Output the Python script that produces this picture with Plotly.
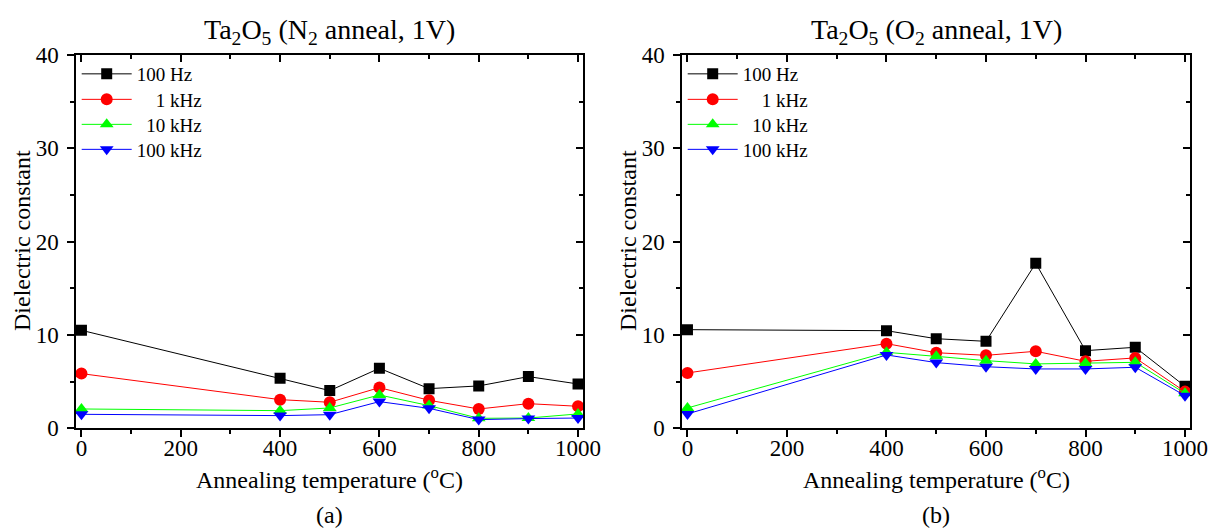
import plotly.graph_objects as go

temps = [0, 400, 500, 600, 700, 800, 900, 1000]

# N2 anneal (a)
n2_100hz = [10.5, 5.36, 4.04, 6.43, 4.25, 4.54, 5.54, 4.75]
n2_1khz = [5.86, 3.07, 2.79, 4.36, 3.0, 2.07, 2.64, 2.36]
n2_10khz = [2.07, 1.89, 2.18, 3.57, 2.43, 1.07, 1.1, 1.54]
n2_100khz = [1.5, 1.36, 1.46, 2.86, 2.14, 0.93, 1.04, 1.1]

# O2 anneal (b)
o2_100hz = [10.57, 10.46, 9.6, 9.32, 17.68, 8.32, 8.68, 4.5]
o2_1khz = [5.93, 9.07, 8.1, 7.82, 8.25, 7.18, 7.54, 3.93]
o2_10khz = [2.18, 8.14, 7.71, 7.25, 6.9, 6.96, 7.07, 3.75]
o2_100khz = [1.54, 7.86, 7.04, 6.6, 6.36, 6.36, 6.54, 3.5]

series_names = ["100 Hz", "\u00a0\u00a0\u00a0\u00a01 kHz", "\u00a0\u00a010 kHz", "100 kHz"]
colors = ["#000000", "#ff0000", "#00ff00", "#0000ff"]
symbols = ["square", "circle", "triangle-up", "triangle-down"]
msizes = [11, 12, 12, 12]

x_ticks = [0, 200, 400, 600, 800, 1000]
x_minor = [100, 300, 500, 700, 900]
y_ticks = [0, 10, 20, 30, 40]
y_minor = [5, 15, 25, 35]

FONT = "Liberation Serif"
W, H = 1212, 530

fig = go.Figure()

# one legend per entry so rows can be spaced like the reference
legend_rows_px = [74.5, 100, 125, 150]
legend_left_px = {"a": 76.7, "b": 682.7}
legend_layout = {}
lg_idx = 1

for panel, data, xa, ya in [
    ("a", [n2_100hz, n2_1khz, n2_10khz, n2_100khz], "x", "y"),
    ("b", [o2_100hz, o2_1khz, o2_10khz, o2_100khz], "x2", "y2"),
]:
    for k, (vals, name, c, s, ms) in enumerate(zip(data, series_names, colors, symbols, msizes)):
        lgname = "legend" if lg_idx == 1 else f"legend{lg_idx}"
        legend_layout[lgname] = dict(
            x=legend_left_px[panel] / W, y=1 - (legend_rows_px[k] - 19.5) / H,
            xanchor="left", yanchor="top",
            font=dict(family=FONT, size=19, color="black"),
            bgcolor="rgba(0,0,0,0)", itemwidth=50, borderwidth=0,
        )
        fig.add_trace(go.Scatter(
            x=temps, y=vals, name=name, mode="lines+markers",
            line=dict(color=c, width=1),
            marker=dict(symbol=s, size=ms, color=c, line=dict(width=0)),
            xaxis=xa, yaxis=ya, legend=lgname,
        ))
        lg_idx += 1

# empty traces to host the mirror axes (top / right with inward ticks)
for xa, ya in [("x3", "y3"), ("x4", "y4")]:
    fig.add_trace(go.Scatter(x=[], y=[], xaxis=xa, yaxis=ya, showlegend=False, hoverinfo="skip"))

ydom = [1 - 428.3 / H, 1 - 55 / H]
xdom1 = [76 / W, 583 / W]
xdom2 = [682 / W, 1190 / W]
xr = [-11, 1010]
yr = [0, 40]

tickfont = dict(family=FONT, size=23, color="black")

def xaxis_main(dom, anchor):
    return dict(domain=dom, range=xr, anchor=anchor, tickvals=x_ticks, ticks="outside",
                ticklen=7, tickwidth=1.5, tickcolor="black", ticklabelstandoff=-9,
                minor=dict(tickvals=x_minor, ticks="outside", ticklen=4, tickwidth=1.5, tickcolor="black"),
                showline=True, linecolor="black", linewidth=1.5, showgrid=False, zeroline=False,
                tickfont=tickfont)

def yaxis_main(anchor):
    return dict(domain=ydom, range=yr, anchor=anchor, tickvals=y_ticks, ticks="outside",
                ticklen=7, tickwidth=1.5, tickcolor="black", ticklabelstandoff=4,
                minor=dict(tickvals=y_minor, ticks="outside", ticklen=4, tickwidth=1.5, tickcolor="black"),
                showline=True, linecolor="black", linewidth=1.5, showgrid=False, zeroline=False,
                tickfont=tickfont)

def xaxis_top(dom, anchor, over):
    return dict(domain=dom, range=xr, anchor=anchor, overlaying=over, side="top",
                tickvals=x_ticks, ticks="inside", ticklen=7, tickwidth=1.5, tickcolor="black",
                minor=dict(tickvals=x_minor, ticks="inside", ticklen=4, tickwidth=1.5, tickcolor="black"),
                showticklabels=False, showline=True, linecolor="black", linewidth=1.5,
                showgrid=False, zeroline=False)

def yaxis_right(anchor, over):
    return dict(domain=ydom, range=yr, anchor=anchor, overlaying=over, side="right",
                tickvals=y_ticks, ticks="inside", ticklen=7, tickwidth=1.5, tickcolor="black",
                minor=dict(tickvals=y_minor, ticks="inside", ticklen=4, tickwidth=1.5, tickcolor="black"),
                showticklabels=False, showline=True, linecolor="black", linewidth=1.5,
                showgrid=False, zeroline=False)

fig.update_layout(
    width=W, height=H, template="none",
    paper_bgcolor="white", plot_bgcolor="white",
    margin=dict(l=0, r=0, t=0, b=0),
    font=dict(family=FONT, color="black"),
    xaxis=xaxis_main(xdom1, "y"),
    yaxis=yaxis_main("x"),
    xaxis2=xaxis_main(xdom2, "y2"),
    yaxis2=yaxis_main("x2"),
    xaxis3=xaxis_top(xdom1, "y3", "x"),
    yaxis3=yaxis_right("x3", "y"),
    xaxis4=xaxis_top(xdom2, "y4", "x2"),
    yaxis4=yaxis_right("x4", "y2"),
    showlegend=True,
    **legend_layout,
)

ann = []
for cx, title, lab, ycx in [
    ((76 + 583) / 2, "Ta<sub>2</sub>O<sub>5</sub> (N<sub>2</sub> anneal, 1V)", "(a)", 22),
    ((682 + 1190) / 2, "Ta<sub>2</sub>O<sub>5</sub> (O<sub>2</sub> anneal, 1V)", "(b)", 628),
]:
    ann.append(dict(text=title, x=cx / W, y=1 - 32 / H, xref="paper", yref="paper",
                    xanchor="center", yanchor="middle", showarrow=False,
                    font=dict(family=FONT, size=28, color="black")))
    ann.append(dict(text="Annealing temperature (<sup>o</sup>C)", x=cx / W, y=1 - 478 / H,
                    xref="paper", yref="paper", xanchor="center", yanchor="middle", showarrow=False,
                    font=dict(family=FONT, size=24, color="black")))
    ann.append(dict(text=lab, x=cx / W, y=1 - 515 / H, xref="paper", yref="paper",
                    xanchor="center", yanchor="middle", showarrow=False,
                    font=dict(family=FONT, size=24, color="black")))
    ann.append(dict(text="Dielectric constant", x=ycx / W, y=1 - 241 / H, xref="paper", yref="paper",
                    xanchor="center", yanchor="middle", showarrow=False, textangle=-90,
                    font=dict(family=FONT, size=24, color="black")))

fig.update_layout(annotations=ann)
fig.write_html("out.html")
